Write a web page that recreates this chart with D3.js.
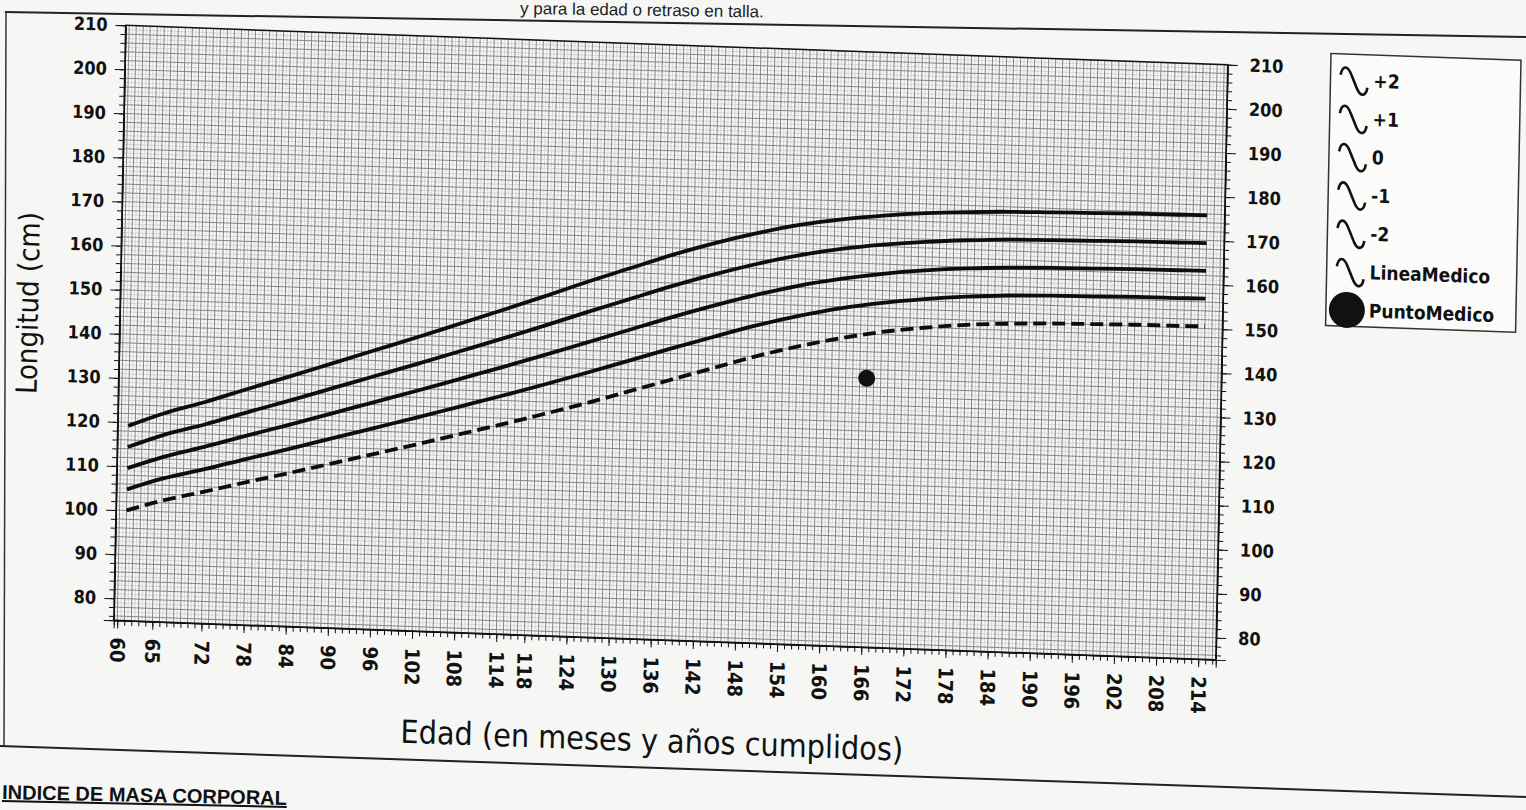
<!DOCTYPE html>
<html>
<head>
<meta charset="utf-8">
<script src="https://cdn.jsdelivr.net/npm/d3@7"></script>
<style>
    body { margin: 0; background: #f6f6f4; }
    svg { display: block; }
    .tick text { font-family: "DejaVu Sans Condensed", "Liberation Sans", sans-serif; font-weight: bold; font-size: 18px; fill: #111; }
    .domain { stroke: #111; }
    .tick line { stroke: #111; }
</style>
</head>
<body>
<div id="chart"></div>
<script>
// edad en meses
const ages = [61, 66, 72, 78, 84, 90, 96, 102, 108, 114, 120, 126, 132, 138, 144, 150, 156, 162, 168, 174, 180, 186, 192, 198, 204, 210, 214];
// longitud (cm) por curva
const sdPlus2 = [119.2, 122.3, 125.3, 128.6, 131.8, 135.1, 138.4, 141.7, 145.1, 148.5, 152.0, 155.6, 159.0, 162.4, 165.4, 168.0, 170.2, 171.8, 173.0, 173.9, 174.5, 174.9, 175.1, 175.3, 175.5, 175.6, 175.7];
const sdPlus1 = [114.4, 117.4, 120.2, 123.3, 126.3, 129.4, 132.5, 135.6, 138.8, 142.0, 145.3, 148.7, 152.0, 155.3, 158.3, 161.0, 163.3, 165.1, 166.4, 167.4, 168.1, 168.6, 168.8, 169.0, 169.2, 169.3, 169.4];
const sdZero = [109.6, 112.4, 115.1, 118.0, 120.8, 123.7, 126.6, 129.5, 132.5, 135.5, 138.6, 141.8, 145.0, 148.2, 151.2, 154.0, 156.4, 158.3, 159.8, 160.9, 161.7, 162.2, 162.5, 162.7, 162.9, 163.0, 163.1];
const sdMinus1 = [104.8, 107.5, 110.0, 112.7, 115.3, 118.0, 120.7, 123.4, 126.2, 129.0, 131.9, 134.9, 138.0, 141.1, 144.1, 147.0, 149.5, 151.6, 153.2, 154.4, 155.3, 155.9, 156.2, 156.4, 156.6, 156.7, 156.8];
const sdMinus2 = [100.0, 102.5, 104.9, 107.4, 109.8, 112.3, 114.8, 117.3, 119.9, 122.5, 125.2, 128.0, 131.0, 134.0, 137.0, 140.0, 142.6, 144.8, 146.6, 147.9, 148.9, 149.5, 149.9, 150.1, 150.3, 150.4, 150.5];
const lineaMedico = [];
const puntoMedico = [{ edad: 166, talla: 136 }];

const xTickLabels = [60, 65, 72, 78, 84, 90, 96, 102, 108, 114, 118, 124, 130, 136, 142, 148, 154, 160, 166, 172, 178, 184, 190, 196, 202, 208, 214];
const yTicks = [80, 90, 100, 110, 120, 130, 140, 150, 160, 170, 180, 190, 200, 210];
const legendLabels = ["+2", "+1", "0", "-1", "-2", "LineaMedico", "PuntoMedico"];

const width = 1526, height = 810;
const plot = { left: 120, right: 1222, top: 45, bottom: 640 };

const svg = d3.select("#chart").append("svg")
    .attr("width", width)
    .attr("height", height);

// hoja fotografiada: bordes y textos de la pagina
const page = svg.append("g").attr("class", "page");
page.append("text")
    .attr("x", 520).attr("y", 14)
    .attr("transform", "rotate(0.8, 520, 14)")
    .style("font-family", "Liberation Sans, sans-serif")
    .style("font-size", "17px")
    .style("fill", "#222")
    .text("y para la edad o retraso en talla.");
page.append("line").attr("x1", 5).attr("y1", 12).attr("x2", 1526).attr("y2", 37)
    .attr("stroke", "#222").attr("stroke-width", 2);
page.append("line").attr("x1", 6).attr("y1", 12).attr("x2", 4).attr("y2", 746)
    .attr("stroke", "#333").attr("stroke-width", 1.5);
page.append("line").attr("x1", 0).attr("y1", 746).attr("x2", 1526).attr("y2", 797)
    .attr("stroke", "#222").attr("stroke-width", 2);
page.append("text")
    .attr("x", 2).attr("y", 799)
    .attr("transform", "rotate(1.2, 2, 799)")
    .style("font-family", "Liberation Sans, sans-serif")
    .style("font-size", "20px")
    .style("font-weight", "bold")
    .style("text-decoration", "underline")
    .style("fill", "#111")
    .text("INDICE DE MASA CORPORAL");

// la foto esta algo inclinada
const g = svg.append("g")
    .attr("transform", "matrix(1,0.0358,-0.02,1,6.6,-24)");

const x = d3.scaleLinear().domain([59.5, 216.5]).range([plot.left, plot.right]);
const y = d3.scaleLinear().domain([75, 210]).range([plot.bottom, plot.top]);

g.append("clipPath").attr("id", "plotClip")
    .append("rect")
    .attr("x", plot.left).attr("y", plot.top)
    .attr("width", plot.right - plot.left).attr("height", plot.bottom - plot.top);

const grid = g.append("g").attr("clip-path", "url(#plotClip)");
grid.append("rect")
    .attr("x", plot.left).attr("y", plot.top)
    .attr("width", plot.right - plot.left).attr("height", plot.bottom - plot.top)
    .attr("fill", "#f7f7f7");

// rejilla fina
grid.selectAll("line.vminor")
    .data(d3.range(59.5, 217, 1))
    .enter().append("line")
    .attr("class", "vminor")
    .attr("x1", (d) => x(d)).attr("x2", (d) => x(d))
    .attr("y1", plot.top).attr("y2", plot.bottom)
    .attr("stroke", "#d6d6d6").attr("stroke-width", 1);
grid.selectAll("line.hminor")
    .data(d3.range(75, 211, 2))
    .enter().append("line")
    .attr("class", "hminor")
    .attr("x1", plot.left).attr("x2", plot.right)
    .attr("y1", (d) => y(d)).attr("y2", (d) => y(d))
    .attr("stroke", "#d6d6d6").attr("stroke-width", 1);
grid.selectAll("line.vmajor")
    .data(d3.range(60, 217, 1))
    .enter().append("line")
    .attr("class", "vmajor")
    .attr("x1", (d) => x(d)).attr("x2", (d) => x(d))
    .attr("y1", plot.top).attr("y2", plot.bottom)
    .attr("stroke", "#7c7c7c").attr("stroke-width", 0.9);
grid.selectAll("line.hmajor")
    .data(d3.range(76, 211, 2))
    .enter().append("line")
    .attr("class", "hmajor")
    .attr("x1", plot.left).attr("x2", plot.right)
    .attr("y1", (d) => y(d)).attr("y2", (d) => y(d))
    .attr("stroke", "#7c7c7c").attr("stroke-width", 0.9);

// ejes
g.append("g")
    .attr("transform", "translate(" + plot.left + ",0)")
    .call(d3.axisLeft(y).tickValues(d3.range(76, 211, 2)).tickSize(5).tickFormat(""));
g.append("g")
    .attr("transform", "translate(" + plot.left + ",0)")
    .call(d3.axisLeft(y).tickValues(yTicks).tickSize(10).tickPadding(8));
g.append("g")
    .attr("transform", "translate(" + plot.right + ",0)")
    .call(d3.axisRight(y).tickValues(d3.range(76, 211, 2)).tickSize(5).tickFormat(""));
g.append("g")
    .attr("transform", "translate(" + plot.right + ",0)")
    .call(d3.axisRight(y).tickValues(yTicks).tickSize(10).tickPadding(12));

g.append("g")
    .attr("transform", "translate(0," + plot.bottom + ")")
    .call(d3.axisBottom(x).tickValues(d3.range(60, 217, 1)).tickSize(5).tickFormat(""));
const xAxis = g.append("g")
    .attr("transform", "translate(0," + plot.bottom + ")")
    .call(d3.axisBottom(x).tickValues(xTickLabels).tickSize(8));
xAxis.selectAll(".tick text")
    .attr("y", 0).attr("x", 0).attr("dy", "0.35em")
    .attr("transform", "translate(0,17) rotate(90)")
    .style("text-anchor", "start")
    .style("font-size", "20px");

g.append("rect")
    .attr("x", plot.left).attr("y", plot.top)
    .attr("width", plot.right - plot.left).attr("height", plot.bottom - plot.top)
    .attr("fill", "none").attr("stroke", "#111").attr("stroke-width", 1.5);

// curvas
const series = [
    { label: "+2", values: sdPlus2, dash: null },
    { label: "+1", values: sdPlus1, dash: null },
    { label: "0", values: sdZero, dash: null },
    { label: "-1", values: sdMinus1, dash: null },
    { label: "-2", values: sdMinus2, dash: "13,6" },
];
const line = d3.line()
    .x((d) => x(d[0]))
    .y((d) => y(d[1]))
    .curve(d3.curveMonotoneX);

g.selectAll("path.curva")
    .data(series)
    .enter().append("path")
    .attr("class", "curva")
    .attr("d", (s) => line(ages.map((a, i) => [a, s.values[i]])))
    .attr("fill", "none")
    .attr("stroke", "#0d0d0d")
    .attr("stroke-width", 3.8)
    .attr("stroke-dasharray", (s) => s.dash);

g.append("path")
    .attr("d", line(lineaMedico))
    .attr("fill", "none").attr("stroke", "#0d0d0d").attr("stroke-width", 3);

g.selectAll("circle.punto")
    .data(puntoMedico)
    .enter().append("circle")
    .attr("class", "punto")
    .attr("cx", (d) => x(d.edad))
    .attr("cy", (d) => y(d.talla))
    .attr("r", 8.5)
    .attr("fill", "#111");

// titulos
g.append("text")
    .attr("x", 660).attr("y", 752)
    .attr("text-anchor", "middle")
    .style("font-family", "DejaVu Sans Condensed, Noto Sans, sans-serif")
    .style("font-size", "32px")
    .style("fill", "#111")
    .text("Edad (en meses y años cumplidos)");
g.append("text")
    .attr("transform", "translate(28,326) rotate(-90)")
    .attr("text-anchor", "middle")
    .attr("dy", "0.35em")
    .style("font-family", "DejaVu Sans Condensed, Noto Sans, sans-serif")
    .style("font-size", "29px")
    .style("fill", "#111")
    .text("Longitud (cm)");

// leyenda
const legend = g.append("g").attr("transform", "translate(1325,30)");
legend.append("rect")
    .attr("width", 190).attr("height", 272)
    .attr("fill", "#fbfbfa").attr("stroke", "#333").attr("stroke-width", 1.5);
const legendItem = legend.selectAll("g.legend")
    .data(legendLabels)
    .enter().append("g")
    .attr("class", "legend")
    .attr("transform", (d, i) => "translate(10," + (26 + i * 38.3) + ")");
legendItem.filter((d) => d !== "PuntoMedico")
    .append("path")
    .attr("d", "M0,-5 C2,-15 7,-15 11,-5 L17,9 C21,17 26,15 27,7")
    .attr("fill", "none").attr("stroke", "#111").attr("stroke-width", 2.6);
legendItem.filter((d) => d === "PuntoMedico")
    .append("circle")
    .attr("cx", 11).attr("cy", 0).attr("r", 18)
    .attr("fill", "#111");
legendItem.append("text")
    .attr("x", 33).attr("dy", "0.35em")
    .style("font-family", "DejaVu Sans Condensed, Liberation Sans, sans-serif")
    .style("font-size", "19px")
    .style("font-weight", "bold")
    .style("fill", "#111")
    .text((d) => d);
</script>
</body>
</html>
